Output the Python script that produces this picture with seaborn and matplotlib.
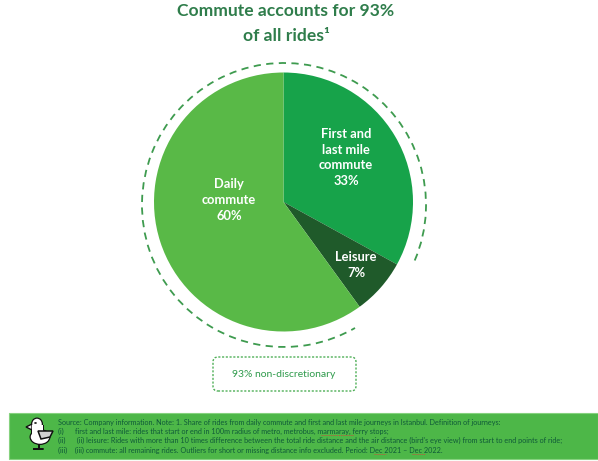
import matplotlib
matplotlib.use("Agg")
import matplotlib.pyplot as plt
from matplotlib.patches import Arc, FancyBboxPatch, Rectangle, Ellipse, Polygon
import seaborn as sns

categories = ["First and\nlast mile\ncommute", "Leisure", "Daily\ncommute"]
shares = [33, 7, 60]
colors = ["#17A34A", "#1F5A2A", "#59B947"]
title_lines = "Commute accounts for 93%\nof all rides¹"
callout = "93% non-discretionary"
notes = [
    "Source: Company information. Note: 1. Share of rides from daily commute and first and last mile journeys in Istanbul. Definition of journeys:",
    "(i)      first and last mile: rides that start or end in 100m radius of metro, metrobus, marmaray, ferry stops;",
    "(ii)      (ii) leisure: Rides with more than 10 times difference between the total ride distance and the air distance (bird's eye view) from start to end points of ride;",
    "(iii)    (iii) commute: all remaining rides. Outliers for short or missing distance info excluded. Period: Dec 2021 – Dec 2022.",
]

sns.set_theme(style="white")
plt.rcParams["font.family"] = ["Lato", "DejaVu Sans"]
W, H = 598, 461
fig = plt.figure(figsize=(W / 100, H / 100), dpi=100, facecolor="white")
ax = fig.add_axes([0, 0, 1, 1])

cx, cy, r = 283.5, H - 202, 129.5
ax.pie(shares, colors=colors, startangle=90, counterclock=False,
       center=(cx, cy), radius=r, frame=False, wedgeprops={"linewidth": 0})
ax.set_aspect("equal")
ax.set_xlim(0, W)
ax.set_ylim(0, H)
ax.axis("off")

dash = "#3E9B4F"
ax.add_patch(Arc((284, H - 205), 284, 284, theta1=-23, theta2=300, color=dash,
                 lw=1.3, ls=(0, (4, 3))))

label_pos = [(346, 157.5), (356, 265), (229, 200)]
for name, s, (x, y) in zip(categories, shares, label_pos):
    ax.text(x, H - y, f"{name}\n{s}%", color="white", fontsize=9.3, fontweight="bold",
            ha="center", va="center", linespacing=1.35)

ax.text(286, H - 23.5, title_lines, color="#2F7D4B", fontsize=12.6, fontweight="bold",
        ha="center", va="center", linespacing=1.65)

ax.add_patch(FancyBboxPatch((213, H - 391), 143, 34, boxstyle="round,pad=0,rounding_size=5",
                            fc="white", ec="#4FAF57", lw=1, ls=(0, (1.5, 1.2))))
ax.text(284, H - 374, callout, color="#2E9A4B", fontsize=7.5, ha="center", va="center")

ax.add_patch(Rectangle((9, H - 459), 589, 46, fc="#4DB748", ec="#86D27F", lw=0.8))
for i, line in enumerate(notes):
    ax.text(58, H - (422 + i * 9.4), line, color="#0F5A38", fontsize=5.25, ha="left", va="center")
for x0, x1, y in [(321, 354, 435), (374, 386, 454), (412, 425, 454)]:
    ax.plot([x0, x1], [H - y, H - y], color="#C8503C", lw=0.7, ls=(0, (1, 1)))

# duck icon: black silhouette, then white fill on top
k = "#111111"
ax.add_patch(Ellipse((37, H - 424), 12, 13, fc=k, ec="none", zorder=5))
ax.add_patch(Rectangle((30.5, H - 437), 13, 12, fc=k, ec="none", zorder=5))
ax.add_patch(Ellipse((40, H - 437), 21, 16, fc=k, ec="none", zorder=5))
ax.add_patch(Polygon([(26, H - 427), (32, H - 430), (32, H - 424)], fc="#E8E8E8", ec=k, lw=1, zorder=5))
ax.add_patch(Ellipse((37, H - 424), 9.5, 10.5, fc="white", ec="none", zorder=6))
ax.add_patch(Rectangle((32, H - 436), 10.5, 11, fc="white", ec="none", zorder=6))
ax.add_patch(Ellipse((40, H - 437), 18.5, 13.5, fc="white", ec="none", zorder=6))
ax.add_patch(Polygon([(38, H - 431), (53, H - 431), (50, H - 437), (41, H - 439)],
                     fc="#D0D0D0", ec=k, lw=1.1, zorder=7))
ax.plot([39, 39, 34, 43], [H - 444, H - 449, H - 449, H - 449], color=k, lw=1.4, zorder=5)
ax.plot([36, 35], [H - 423, H - 423], color=k, lw=1.2, zorder=8)

fig.savefig("out.png", dpi=100)
